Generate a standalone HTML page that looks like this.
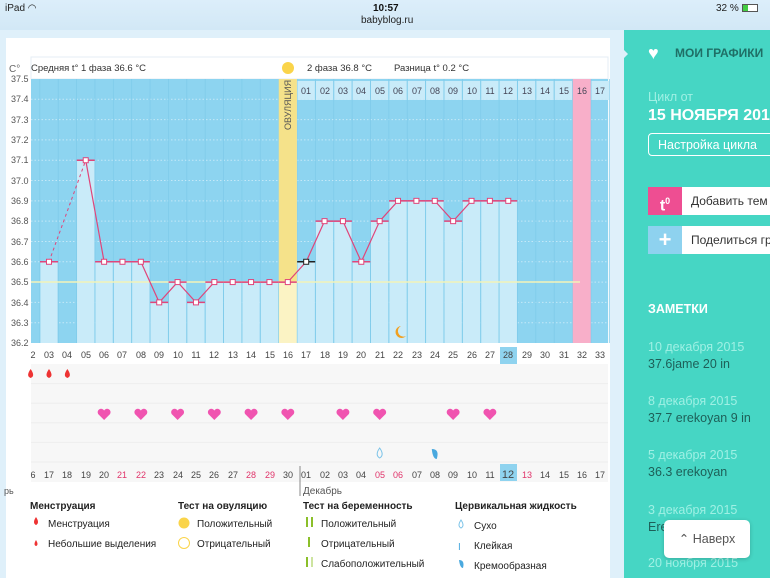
<!DOCTYPE html>
<html><head><meta charset="utf-8">
<style>
body{margin:0;width:770px;height:578px;overflow:hidden;background:#dff0fa;font-family:"Liberation Sans",sans-serif;position:relative}
.abs{position:absolute}
.st{top:0;left:0;width:770px;height:30px;background:linear-gradient(#dceefa,#d2e8f6)}
.card{left:6px;top:38px;width:604px;height:540px;background:#fff}
.side{left:624px;top:30px;width:146px;height:548px;background:#46d6c4}
.nt{color:#9ff0e4;font-size:12.5px}
.nx{color:#1e5f58;font-size:12.5px}
</style></head><body>
<div class="abs st"></div>
<div class="abs" style="left:5px;top:3px;font-size:10px;color:#222">iPad ◠</div>
<div class="abs" style="left:373px;top:3px;font-size:10px;font-weight:bold;color:#111">10:57</div>
<div class="abs" style="left:361px;top:15px;font-size:10px;color:#222">babyblog.ru</div>
<div class="abs" style="left:716px;top:3px;font-size:10px;color:#222">32 % <span style="display:inline-block;width:14px;height:6px;border:1px solid #555;vertical-align:middle;background:linear-gradient(90deg,#4c4 35%,#fff 35%)"></span></div>
<div class="abs card"></div>
<svg class="abs" style="left:0;top:0" width="620" height="578" id="ch">
<rect x="31" y="57" width="577" height="22" fill="#fff" stroke="#e4eef4"/>
<text x="9" y="72" font-size="10" fill="#666">C°</text>
<text x="31" y="71" font-size="9.5" fill="#333">Средняя t° 1 фаза 36.6 °C</text>
<circle cx="288" cy="68" r="6" fill="#fad44a"/>
<text x="307" y="71" font-size="9.5" fill="#333">2 фаза 36.8 °C</text>
<text x="394" y="71" font-size="9.5" fill="#333">Разница t° 0.2 °C</text>
<g id="plot"></g>
<g font-size="9" fill="#555">
<text x="11" y="82">37.5</text><text x="11" y="102">37.4</text><text x="11" y="123">37.3</text><text x="11" y="143">37.2</text><text x="11" y="163">37.1</text><text x="11" y="184">37.0</text><text x="11" y="204">36.9</text><text x="11" y="224">36.8</text><text x="11" y="245">36.7</text><text x="11" y="265">36.6</text><text x="11" y="285">36.5</text><text x="11" y="306">36.4</text><text x="11" y="326">36.3</text><text x="11" y="346">36.2</text>
</g>
<text transform="translate(291,130) rotate(-90)" font-size="9" fill="#555">ОВУЛЯЦИЯ</text>
<g font-size="9" fill="#445" text-anchor="middle">
<text x="306" y="94">01</text><text x="325" y="94">02</text><text x="343" y="94">03</text><text x="361" y="94">04</text><text x="380" y="94">05</text><text x="398" y="94">06</text><text x="417" y="94">07</text><text x="435" y="94">08</text><text x="453" y="94">09</text><text x="472" y="94">10</text><text x="490" y="94">11</text><text x="508" y="94">12</text><text x="527" y="94">13</text><text x="545" y="94">14</text><text x="564" y="94">15</text><text x="582" y="94">16</text><text x="600" y="94">17</text>
</g>
<rect x="500" y="347" width="17" height="17" fill="#8fd3ef"/>
<g font-size="9" fill="#444" text-anchor="middle">
<text x="33" y="358">2</text><text x="49" y="358">03</text><text x="67" y="358">04</text><text x="86" y="358">05</text><text x="104" y="358">06</text><text x="122" y="358">07</text><text x="141" y="358">08</text><text x="159" y="358">09</text><text x="178" y="358">10</text><text x="196" y="358">11</text><text x="214" y="358">12</text><text x="233" y="358">13</text><text x="251" y="358">14</text><text x="270" y="358">15</text><text x="288" y="358">16</text><text x="306" y="358">17</text><text x="325" y="358">18</text><text x="343" y="358">19</text><text x="361" y="358">20</text><text x="380" y="358">21</text><text x="398" y="358">22</text><text x="417" y="358">23</text><text x="435" y="358">24</text><text x="453" y="358">25</text><text x="472" y="358">26</text><text x="490" y="358">27</text><text x="508" y="358">28</text><text x="527" y="358">29</text><text x="545" y="358">30</text><text x="564" y="358">31</text><text x="582" y="358">32</text><text x="600" y="358">33</text>
</g>
<rect x="31" y="364" width="577" height="118" fill="#f7f7f7"/>
<g id="icons"></g>
<rect x="500" y="464" width="17" height="17" fill="#8fd3ef"/>
<line x1="300" y1="466" x2="300" y2="496" stroke="#888"/>
<g font-size="9" fill="#444" text-anchor="middle">
<text x="33" y="478">6</text><text x="49" y="478">17</text><text x="67" y="478">18</text><text x="86" y="478">19</text><text x="104" y="478">20</text><text x="122" y="478" fill="#e0336a">21</text><text x="141" y="478" fill="#e0336a">22</text><text x="159" y="478">23</text><text x="178" y="478">24</text><text x="196" y="478">25</text><text x="214" y="478">26</text><text x="233" y="478">27</text><text x="251" y="478" fill="#e0336a">28</text><text x="270" y="478" fill="#e0336a">29</text><text x="288" y="478">30</text><text x="306" y="478">01</text><text x="325" y="478">02</text><text x="343" y="478">03</text><text x="361" y="478">04</text><text x="380" y="478" fill="#e0336a">05</text><text x="398" y="478" fill="#e0336a">06</text><text x="417" y="478">07</text><text x="435" y="478">08</text><text x="453" y="478">09</text><text x="472" y="478">10</text><text x="490" y="478">11</text><text x="508" y="478" font-size="11">12</text><text x="527" y="478" fill="#e0336a">13</text><text x="545" y="478">14</text><text x="564" y="478">15</text><text x="582" y="478">16</text><text x="600" y="478">17</text>
</g>
<text x="4" y="494" font-size="9" fill="#555">рь</text>
<text x="303" y="494" font-size="10" fill="#555">Декабрь</text>
<g font-size="10" fill="#222">
<text x="30" y="509" font-weight="bold">Менструация</text>
<text x="178" y="509" font-weight="bold">Тест на овуляцию</text>
<text x="303" y="509" font-weight="bold">Тест на беременность</text>
<text x="455" y="509" font-weight="bold">Цервикальная жидкость</text>
<text x="48" y="527">Менструация</text><text x="48" y="547">Небольшие выделения</text>
<text x="197" y="527">Положительный</text><text x="197" y="547">Отрицательный</text>
<text x="321" y="527">Положительный</text><text x="321" y="547">Отрицательный</text><text x="321" y="567">Слабоположительный</text>
<text x="474" y="529">Сухо</text><text x="474" y="549">Клейкая</text><text x="474" y="569">Кремообразная</text>
</g>
<path d="M36,517 q-4,6 0,8 q4,-2 0,-8z" fill="#e33"/>
<path d="M36,540 q-3,5 0,6 q3,-1 0,-6z" fill="#e33"/>
<circle cx="184" cy="523" r="5.5" fill="#fad44a"/>
<circle cx="184" cy="543" r="5.5" fill="none" stroke="#fad44a"/>
<rect x="306" y="517" width="2" height="10" fill="#8bbf2a"/><rect x="311" y="517" width="2" height="10" fill="#8bbf2a"/>
<rect x="308" y="537" width="2" height="10" fill="#8bbf2a"/>
<rect x="306" y="557" width="2" height="10" fill="#8bbf2a"/><rect x="311" y="557" width="2" height="10" fill="#cde4a0"/>
<path d="M461,520 q-4,6 0,8 q4,-2 0,-8z" fill="none" stroke="#7bc3e8"/>
<text x="458" y="550" font-size="10" fill="#4aa9df">I</text>
<path d="M459,560 q6,0 4,8 q-3,0 -4,-8z" fill="#4aa9df"/>
</svg>
<div class="abs side"></div>
<div class="abs" style="left:620px;top:46px;width:0;height:0;border-top:8px solid transparent;border-bottom:8px solid transparent;border-left:8px solid #dff0fa"></div>
<div class="abs" style="left:648px;top:43px;color:#fff;font-size:18px">♥</div>
<div class="abs" style="left:675px;top:46px;color:#1f6f66;font-weight:bold;font-size:12px">МОИ ГРАФИКИ</div>
<div class="abs" style="left:648px;top:90px;color:#9ff0e4;font-size:12.5px">Цикл от</div>
<div class="abs" style="left:648px;top:107px;color:#fff;font-weight:bold;font-size:16px;white-space:nowrap">15 НОЯБРЯ 2015</div>
<div class="abs" style="left:648px;top:133px;width:130px;height:23px;border:1px solid #fff;border-radius:4px;color:#fff;font-size:12.5px;line-height:23px;padding-left:9px;box-sizing:border-box">Настройка цикла</div>
<div class="abs" style="left:648px;top:187px;width:34px;height:28px;background:#ee4e92;color:#fff;font-weight:bold;font-size:16px;text-align:center;line-height:28px">t<sup style="font-size:9px">0</sup></div>
<div class="abs" style="left:682px;top:187px;width:88px;height:28px;background:#fff;font-size:12px;line-height:28px;padding-left:9px;box-sizing:border-box;white-space:nowrap;overflow:hidden;color:#333">Добавить тем</div>
<div class="abs" style="left:648px;top:226px;width:34px;height:28px;background:#8ed2ef;color:#fff;font-weight:bold;font-size:22px;text-align:center;line-height:28px">+</div>
<div class="abs" style="left:682px;top:226px;width:88px;height:28px;background:#fff;font-size:12px;line-height:28px;padding-left:9px;box-sizing:border-box;white-space:nowrap;overflow:hidden;color:#333">Поделиться гр</div>
<div class="abs" style="left:648px;top:302px;color:#fff;font-weight:bold;font-size:12.5px">ЗАМЕТКИ</div>
<div class="abs nt" style="left:648px;top:340px">10 декабря 2015</div>
<div class="abs nx" style="left:648px;top:357px">37.6jame 20 in</div>
<div class="abs nt" style="left:648px;top:394px">8 декабря 2015</div>
<div class="abs nx" style="left:648px;top:411px">37.7 erekoyan 9 in</div>
<div class="abs nt" style="left:648px;top:448px">5 декабря 2015</div>
<div class="abs nx" style="left:648px;top:465px">36.3 erekoyan</div>
<div class="abs nt" style="left:648px;top:503px">3 декабря 2015</div>
<div class="abs nx" style="left:648px;top:520px;white-space:nowrap">Erekoyan 37</div>
<div class="abs nt" style="left:648px;top:556px">20 ноября 2015</div>
<div class="abs" style="left:664px;top:520px;width:86px;height:38px;background:#fff;border-radius:5px;box-shadow:0 1px 4px rgba(0,0,0,.2);color:#555;font-size:12.5px;line-height:38px;text-align:center">⌃ Наверх</div>
<script>
const NS="http://www.w3.org/2000/svg",p=document.getElementById('plot'),ic=document.getElementById('icons');
function el(g,t,a){const e=document.createElementNS(NS,t);for(const k in a)e.setAttribute(k,a[k]);g.appendChild(e);return e}
const cx=d=>49+(d-3)*18.37, y=v=>79+(37.5-v)*203.08;
el(p,'rect',{x:31,y:79,width:577,height:264,fill:'#8dd4f0'});
for(let d=17;d<=33;d++)el(p,'rect',{x:cx(d)-8.7,y:81,width:17.4,height:19,fill:'#c9ebf9'});
for(let i=1;i<13;i++)el(p,'line',{x1:31,x2:608,y1:79+i*20.31,y2:79+i*20.31,stroke:'#c4e8f7','stroke-dasharray':'1.5,2'});
const T={3:36.6,5:37.1,6:36.6,7:36.6,8:36.6,9:36.4,10:36.5,11:36.4,12:36.5,13:36.5,14:36.5,15:36.5,16:36.5,17:36.6,18:36.8,19:36.8,20:36.6,21:36.8,22:36.9,23:36.9,24:36.9,25:36.8,26:36.9,27:36.9,28:36.9};
for(const d in T){el(p,'rect',{x:cx(+d)-8.7,y:y(T[d]),width:17.4,height:343-y(T[d]),fill:'#c9ebf9'});}
for(let d=2;d<=33;d++)el(p,'line',{x1:cx(d)+9.2,x2:cx(d)+9.2,y1:79,y2:343,stroke:'#7fcbea','stroke-width':0.8});
el(p,'rect',{x:cx(16)-9,y:79,width:18,height:264,fill:'#fbf3c4'});
el(p,'rect',{x:cx(16)-9,y:79,width:18,height:203,fill:'#f5e28a'});
el(p,'rect',{x:cx(32)-9,y:79,width:18,height:264,fill:'#f8afc9'});
el(p,'line',{x1:31,x2:580,y1:282,y2:282,stroke:'#f3f3b8','stroke-width':1.5});
for(const d in T){const c=d==17?'#222':'#e0457a';el(p,'line',{x1:cx(+d)-9,x2:cx(+d)+9,y1:y(T[d]),y2:y(T[d]),stroke:c,'stroke-width':1.5});}
el(p,'line',{x1:cx(3),y1:y(36.6),x2:cx(5),y2:y(37.1),stroke:'#e0457a','stroke-dasharray':'3,3'});
let pts=[];for(let d=5;d<=28;d++)pts.push(cx(d)+','+y(T[d]));
el(p,'polyline',{points:pts.join(' '),fill:'none',stroke:'#e0457a','stroke-width':1.2});
for(const d in T)el(p,'rect',{x:cx(+d)-2.5,y:y(T[d])-2.5,width:5,height:5,fill:'#fff',stroke:d==17?'#222':'#e0457a'});
el(p,'path',{d:'M401,326 a6,6 0 1,0 5,10 a5,5 0 1,1 -5,-10z',fill:'#f0a020'});
for(let i=1;i<6;i++)el(ic,'line',{x1:31,x2:608,y1:364+i*19.6,y2:364+i*19.6,stroke:'#eee'});
for(const d of [2,3,4])el(ic,'path',{d:`M${cx(d)},369 q-5,7 0,9 q5,-2 0,-9z`,fill:'#e33'});
for(const d of [6,8,10,12,14,16,19,21,25,27]){const x=cx(d);el(ic,'path',{d:`M${x},420 l-6,-6 a3.3,3.3 0 0,1 6,-3.5 a3.3,3.3 0 0,1 6,3.5z`,fill:'#f054b0'});}
el(ic,'path',{d:`M${cx(21)},448 q-5,7 0,10 q5,-3 0,-10z`,fill:'none',stroke:'#7bc3e8'});
el(ic,'path',{d:`M${cx(24)-3},449 q8,0 5,10 q-4,0 -5,-10z`,fill:'#4aa9df'});
</script>
</body></html>
